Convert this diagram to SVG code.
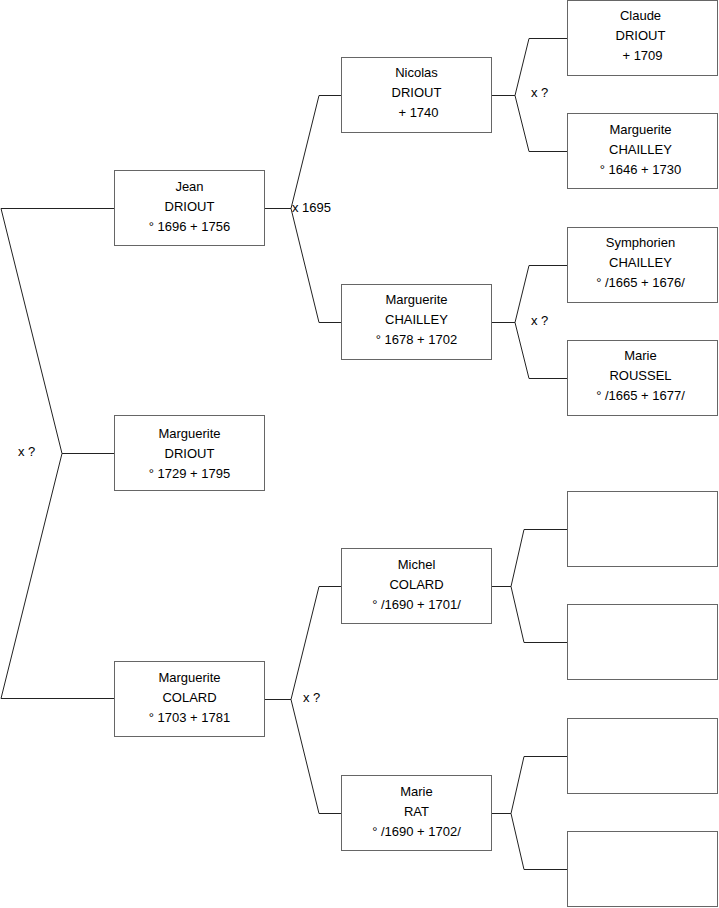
<svg xmlns="http://www.w3.org/2000/svg" width="719" height="908" viewBox="0 0 719 908">
<style>
rect.box{fill:#fff;stroke:#666;stroke-width:1}
.c{fill:none;stroke:#222;stroke-width:1}
text{font-family:"Liberation Sans",Arial,sans-serif;font-size:13px;fill:#000}
.m{text-anchor:middle}
</style>
<rect width="719" height="908" fill="#fff"/>
<g id="connectors">
<polyline class="c" points="114,208.5 1,208.5 62,453.5 1,698.5 114,698.5"/>
<line class="c" x1="62" y1="453.5" x2="114" y2="453.5"/>
<polyline class="c" points="265,208.5 291,208.5"/>
<polyline class="c" points="341,95.5 319,95.5 291,208.5 319,322.5 341,322.5"/>
<polyline class="c" points="265,699.5 291,699.5"/>
<polyline class="c" points="341,586.5 319,586.5 291,699.5 319,813.5 341,813.5"/>
<polyline class="c" points="492,95.5 515,95.5"/>
<polyline class="c" points="567,38.5 529,38.5 515,95.5 529,151.5 567,151.5"/>
<polyline class="c" points="492,322.5 515,322.5"/>
<polyline class="c" points="567,265.5 529,265.5 515,322.5 529,378.5 567,378.5"/>
<polyline class="c" points="492,586.5 511,586.5"/>
<polyline class="c" points="567,529.5 524,529.5 511,586.5 524,642.5 567,642.5"/>
<polyline class="c" points="492,813.5 511,813.5"/>
<polyline class="c" points="567,756.5 524,756.5 511,813.5 524,869.5 567,869.5"/>
<text x="18" y="456">x ?</text>
<text x="292" y="212">x 1695</text>
<text x="303" y="702">x ?</text>
<text x="531" y="97">x ?</text>
<text x="531" y="325">x ?</text>
</g>
<g id="jean">
<rect class="box" x="114.5" y="170.5" width="150" height="75"/>
<text class="m" x="189.5" y="191">Jean</text>
<text class="m" x="189.5" y="211">DRIOUT</text>
<text class="m" x="189.5" y="231">° 1696 + 1756</text>
</g>
<g id="marguerite-driout">
<rect class="box" x="114.5" y="415.5" width="150" height="75"/>
<text class="m" x="189.5" y="438">Marguerite</text>
<text class="m" x="189.5" y="458">DRIOUT</text>
<text class="m" x="189.5" y="478">° 1729 + 1795</text>
</g>
<g id="marguerite-colard">
<rect class="box" x="114.5" y="661.5" width="150" height="75"/>
<text class="m" x="189.5" y="682">Marguerite</text>
<text class="m" x="189.5" y="702">COLARD</text>
<text class="m" x="189.5" y="722">° 1703 + 1781</text>
</g>
<g id="nicolas">
<rect class="box" x="341.5" y="57.5" width="150" height="75"/>
<text class="m" x="416.5" y="77">Nicolas</text>
<text class="m" x="416.5" y="97">DRIOUT</text>
<text class="m" x="418.5" y="117">+ 1740</text>
</g>
<g id="marguerite-chailley">
<rect class="box" x="341.5" y="284.5" width="150" height="75"/>
<text class="m" x="416.5" y="304">Marguerite</text>
<text class="m" x="416.5" y="324">CHAILLEY</text>
<text class="m" x="416.5" y="344">° 1678 + 1702</text>
</g>
<g id="michel">
<rect class="box" x="341.5" y="548.5" width="150" height="75"/>
<text class="m" x="416.5" y="569">Michel</text>
<text class="m" x="416.5" y="589">COLARD</text>
<text class="m" x="416.5" y="609">° /1690 + 1701/</text>
</g>
<g id="marie-rat">
<rect class="box" x="341.5" y="775.5" width="150" height="75"/>
<text class="m" x="416.5" y="796">Marie</text>
<text class="m" x="416.5" y="816">RAT</text>
<text class="m" x="416.5" y="836">° /1690 + 1702/</text>
</g>
<g id="claude">
<rect class="box" x="567.5" y="0.5" width="150" height="75"/>
<text class="m" x="640.5" y="20">Claude</text>
<text class="m" x="640.5" y="40">DRIOUT</text>
<text class="m" x="642.5" y="60">+ 1709</text>
</g>
<g id="marguerite-chailley-1646">
<rect class="box" x="567.5" y="113.5" width="150" height="75"/>
<text class="m" x="640.5" y="134">Marguerite</text>
<text class="m" x="640.5" y="154">CHAILLEY</text>
<text class="m" x="640.5" y="174">° 1646 + 1730</text>
</g>
<g id="symphorien">
<rect class="box" x="567.5" y="227.5" width="150" height="75"/>
<text class="m" x="640.5" y="247">Symphorien</text>
<text class="m" x="640.5" y="267">CHAILLEY</text>
<text class="m" x="640.5" y="287">° /1665 + 1676/</text>
</g>
<g id="marie-roussel">
<rect class="box" x="567.5" y="340.5" width="150" height="75"/>
<text class="m" x="640.5" y="360">Marie</text>
<text class="m" x="640.5" y="380">ROUSSEL</text>
<text class="m" x="640.5" y="400">° /1665 + 1677/</text>
</g>
<g id="empty-1"><rect class="box" x="567.5" y="491.5" width="150" height="75"/></g>
<g id="empty-2"><rect class="box" x="567.5" y="604.5" width="150" height="75"/></g>
<g id="empty-3"><rect class="box" x="567.5" y="718.5" width="150" height="75"/></g>
<g id="empty-4"><rect class="box" x="567.5" y="831.5" width="150" height="75"/></g>
</svg>
